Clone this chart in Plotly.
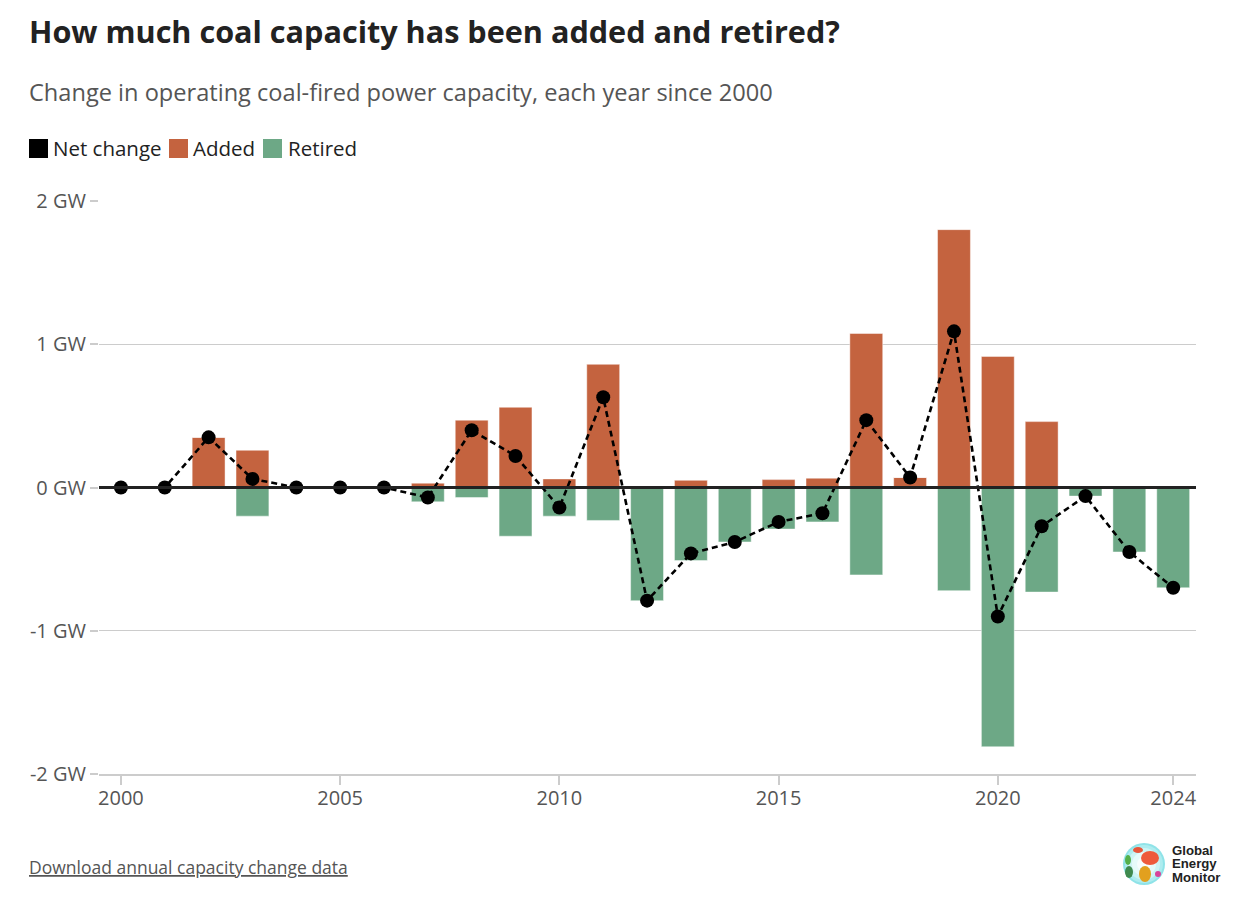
import plotly.graph_objects as go

years = list(range(2000, 2025))
added = [0, 0, 0.35, 0.26, 0, 0, 0, 0.03, 0.47, 0.56, 0.06, 0.86, 0, 0.05, 0,
         0.055, 0.065, 1.075, 0.07, 1.80, 0.915, 0.46, 0, 0, 0]
retired = [0, 0, 0, -0.20, 0, 0, 0, -0.10, -0.07, -0.34, -0.20, -0.23, -0.79, -0.51, -0.38,
           -0.29, -0.24, -0.61, 0, -0.72, -1.81, -0.73, -0.06, -0.45, -0.70]
net = [0, 0, 0.35, 0.06, 0, 0, 0, -0.07, 0.40, 0.22, -0.14, 0.63, -0.79, -0.46, -0.38,
       -0.24, -0.18, 0.47, 0.07, 1.09, -0.90, -0.27, -0.06, -0.45, -0.70]
x_ticks = [2000, 2005, 2010, 2015, 2020, 2024]
y_ticks = [-2, -1, 0, 1, 2]
legend_names = ["Net change", "Added", "Retired"]

ORANGE = "#c4633f"
GREEN = "#6da886"
FONT = "Open Sans"
legend_colors = ["#000000", ORANGE, GREEN]

# pixel -> paper helpers (plot area: x 99..1196, y 201..774)
L, R, T, B = 99, 38, 201, 124
PW, PH = 1234 - L - R, 898 - T - B


def px(x):
    return (x - L) / PW


def py(y):
    return (898 - B - y) / PH


fig = go.Figure()
fig.add_trace(go.Bar(x=years, y=added, name="Added", marker_color=ORANGE, showlegend=False,
                     marker_line=dict(color="rgba(255,255,255,0.45)", width=1), width=0.75))
fig.add_trace(go.Bar(x=years, y=retired, name="Retired", marker_color=GREEN, showlegend=False,
                     marker_line=dict(color="rgba(255,255,255,0.45)", width=1), width=0.75))
fig.add_trace(go.Scatter(x=years, y=net, mode="lines+markers", name="Net change", showlegend=False,
                         line=dict(color="#000000", width=2.6, dash="6px,4px"),
                         marker=dict(color="#000000", size=14)))

fig.update_layout(
    width=1234, height=898,
    margin=dict(l=L, r=R, t=T, b=B),
    paper_bgcolor="white", plot_bgcolor="white",
    barmode="relative",
    font=dict(family=FONT, color="#555555", size=20),
    title=dict(text="<b>How much coal capacity has been added and retired?</b>",
               x=29 / 1234, xanchor="left", xref="container",
               y=1 - 32 / 898, yanchor="middle", yref="container",
               font=dict(family=FONT, size=30.6, color="#222222")),
    showlegend=False,
    hovermode=False,
)

fig.update_xaxes(range=[1999.5, 2024.52], tickvals=x_ticks, ticktext=[str(v) for v in x_ticks],
                 showgrid=False, zeroline=False, showline=True, linecolor="#cccccc", linewidth=1.5,
                 ticks="outside", ticklen=9, tickcolor="#cccccc", tickwidth=1.5,
                 ticklabelstandoff=-4,
                 tickfont=dict(size=20, color="#555555"))
fig.update_yaxes(range=[-2, 2], tickvals=y_ticks, ticktext=[f"{v} GW" for v in y_ticks],
                 showgrid=True, gridcolor="#cccccc", gridwidth=1, zeroline=False,
                 ticks="outside", ticklen=8, tickcolor="#cccccc", tickwidth=1.5,
                 tickfont=dict(size=20, color="#555555"))

# zero baseline drawn above bars
fig.add_shape(type="line", xref="paper", yref="y", x0=0, x1=1, y0=0, y1=0,
              line=dict(color="#222222", width=3), layer="above")

# manual legend
leg_sq = [29, 169, 263]
leg_tx = [52, 192, 287]
for name, col, sx, tx in zip(legend_names, legend_colors, leg_sq, leg_tx):
    fig.add_shape(type="rect", xref="paper", yref="paper",
                  x0=px(sx), x1=px(sx + 19), y0=py(158), y1=py(139),
                  fillcolor=col, line=dict(width=0))
    fig.add_annotation(text=name, xref="paper", yref="paper", x=px(tx), y=py(148),
                       xanchor="left", yanchor="middle", showarrow=False, borderpad=0,
                       font=dict(family=FONT, size=20.5, color="#222222"))

fig.add_annotation(text="Change in operating coal-fired power capacity, each year since 2000",
                   xref="paper", yref="paper", x=px(27), y=py(92),
                   xanchor="left", yanchor="middle", showarrow=False,
                   font=dict(family=FONT, size=23.6, color="#555555"))
fig.add_annotation(text="<u>Download annual capacity change data</u>",
                   xref="paper", yref="paper", x=px(27), y=py(867),
                   xanchor="left", yanchor="middle", showarrow=False,
                   font=dict(family=FONT, size=17.5, color="#555555"))

# logo
lcx, lcy = 1144, 864
for rr, col in [(21, "#8fe3e8"), (19, "#aeecef"), (16, "#cdf4f5"), (12, "#e6fafa"), (7, "#f6fdfd")]:
    fig.add_shape(type="circle", xref="paper", yref="paper",
                  x0=px(lcx - rr), x1=px(lcx + rr), y0=py(lcy + rr), y1=py(lcy - rr),
                  fillcolor=col, line=dict(width=0), layer="above")
for dx, dy, rx, ry, col in [(6, -6, 9, 7, "#ee5a3c"), (-6, -14, 5, 3, "#e8553a"),
                            (-16, -4, 3, 5, "#55b04a"), (-15, 8, 4, 6, "#3f8a4f"),
                            (1, 10, 6, 8, "#e2a01e"), (14, 10, 3, 3, "#d8449a")]:
    fig.add_shape(type="circle", xref="paper", yref="paper",
                  x0=px(lcx + dx - rx), x1=px(lcx + dx + rx),
                  y0=py(lcy + dy + ry), y1=py(lcy + dy - ry),
                  fillcolor=col, line=dict(width=0), layer="above")
for i, word in enumerate(["Global", "Energy", "Monitor"]):
    fig.add_annotation(text=f"<b>{word}</b>", xref="paper", yref="paper",
                       x=px(1171), y=py(850.5 + i * 13.3),
                       xanchor="left", yanchor="middle", showarrow=False, borderpad=0,
                       font=dict(family="Liberation Sans", size=13.2, color="#222222"))

fig.write_html("out.html")
